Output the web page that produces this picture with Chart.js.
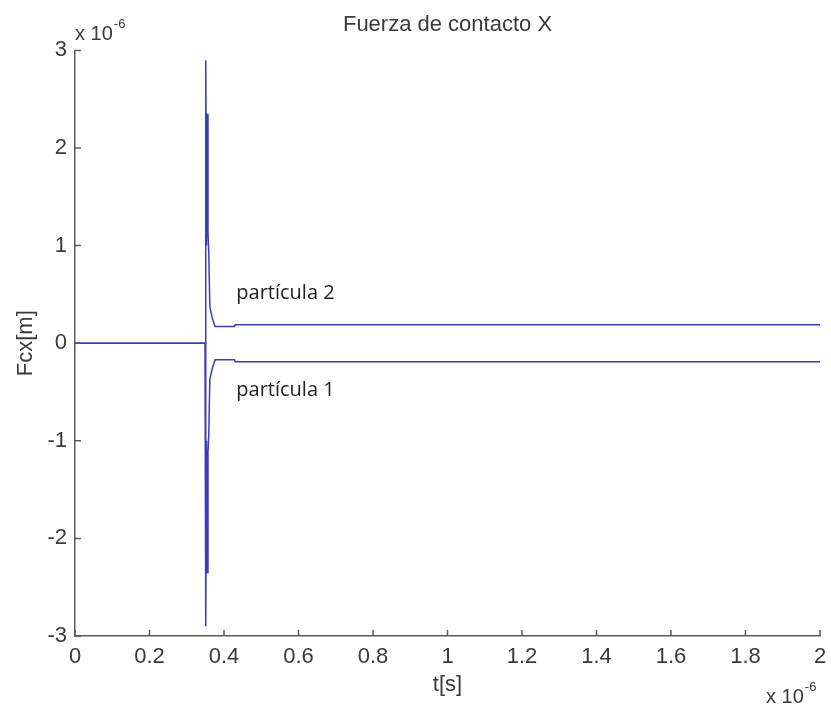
<!DOCTYPE html>
<html>
<head>
<meta charset="utf-8">
<script src="https://cdn.jsdelivr.net/npm/chart.js@4"></script>
<style>
  html, body { margin: 0; padding: 0; background: #fff; }
  #caja { width: 831px; height: 710px; position: relative; }
</style>
</head>
<body>
<div id="caja"><canvas id="grafico"></canvas></div>
<script>
// tiempo en unidades de 1e-6 s, fuerza en unidades de 1e-6
const tiempo     = [0, 0.349, 0.351, 0.353, 0.355, 0.357, 0.359, 0.362, 0.366, 0.370, 0.376, 0.428, 0.430, 2.0];
const particula2 = [0, 0, 2.9, 1.0, 2.35, 1.12, 0.95, 0.37, 0.30, 0.24, 0.17, 0.17, 0.19, 0.19];
const particula1 = [0, 0, -2.9, -1.0, -2.35, -1.12, -0.95, -0.37, -0.30, -0.24, -0.17, -0.17, -0.19, -0.19];
const nombres    = ['partícula 1', 'partícula 2'];
const ticksX     = [0, 0.2, 0.4, 0.6, 0.8, 1, 1.2, 1.4, 1.6, 1.8, 2];
const ticksY     = [-3, -2, -1, 0, 1, 2, 3];

const fuente = 'Liberation Sans, Arial, sans-serif';
const gris = '#3a3a3a';
const azul = '#3c3cb4';

const puntos = (ys) => tiempo.map((t, i) => ({ x: t, y: ys[i] }));

// marcas de eje hacia dentro, exponentes y etiquetas de las curvas
const extras = {
  id: 'extras',
  afterDraw(chart) {
    const { ctx, chartArea: a, scales: { x, y } } = chart;
    ctx.save();
    ctx.strokeStyle = '#5a5a5a';
    ctx.lineWidth = 1.5;
    ctx.beginPath();
    ticksX.forEach(v => {
      const px = x.getPixelForValue(v);
      ctx.moveTo(px, a.bottom);
      ctx.lineTo(px, a.bottom - 6);
    });
    ticksY.forEach(v => {
      const py = y.getPixelForValue(v);
      ctx.moveTo(a.left, py);
      ctx.lineTo(a.left + 6, py);
    });
    ctx.stroke();

    // x 10^-6
    const exponente = (xx, yy) => {
      ctx.fillStyle = gris;
      ctx.textAlign = 'left';
      ctx.textBaseline = 'alphabetic';
      ctx.font = '20px ' + fuente;
      ctx.fillText('x 10', xx, yy);
      const w = ctx.measureText('x 10').width;
      ctx.font = '13px ' + fuente;
      ctx.fillText('-6', xx + w + 1, yy - 12);
    };
    exponente(a.left, 40);
    exponente(a.right - 54, 703);

    ctx.fillStyle = '#1e1e1e';
    ctx.font = '20px "Open Sans", sans-serif';
    ctx.textBaseline = 'middle';
    ctx.fillText(nombres[1], x.getPixelForValue(0.433), y.getPixelForValue(0.51));
    ctx.fillText(nombres[0], x.getPixelForValue(0.433), y.getPixelForValue(-0.48));
    ctx.restore();
  }
};

const config = {
  type: 'line',
  data: {
    datasets: [
      { label: nombres[1], data: puntos(particula2), borderColor: azul, borderWidth: 1.5, pointRadius: 0, tension: 0 },
      { label: nombres[0], data: puntos(particula1), borderColor: azul, borderWidth: 1.5, pointRadius: 0, tension: 0 }
    ]
  },
  options: {
    responsive: true,
    maintainAspectRatio: false,
    animation: false,
    layout: { padding: { left: 0, right: 11, top: 0, bottom: 0 } },
    plugins: {
      legend: { display: false },
      tooltip: { enabled: false },
      title: {
        display: true,
        fullSize: false,
        text: 'Fuerza de contacto X',
        color: gris,
        font: { family: fuente, size: 22, weight: 'normal' },
        padding: { top: 12, bottom: 12 }
      }
    },
    scales: {
      x: {
        type: 'linear',
        min: 0,
        max: 2,
        afterFit: (s) => { s.height = 74; s.paddingLeft = 0; s.paddingRight = 0; },
        afterBuildTicks: (s) => { s.ticks = ticksX.map(v => ({ value: v })); },
        grid: { display: true, drawOnChartArea: false, drawTicks: false },
        border: { display: true, color: '#5a5a5a', width: 1.5 },
        ticks: {
          color: gris,
          padding: 8,
          maxRotation: 0,
          font: { family: fuente, size: 22 },
          callback: (v) => String(Number(v.toFixed(1)))
        },
        title: {
          display: true,
          text: 't[s]',
          color: gris,
          font: { family: fuente, size: 22 },
          padding: { top: 0, bottom: 12 }
        }
      },
      y: {
        type: 'linear',
        min: -3,
        max: 3,
        afterFit: (s) => { s.width = 75; },
        afterBuildTicks: (s) => { s.ticks = ticksY.map(v => ({ value: v })); },
        grid: { display: true, drawOnChartArea: false, drawTicks: false },
        border: { display: true, color: '#5a5a5a', width: 1.5 },
        ticks: {
          color: gris,
          padding: 8,
          font: { family: fuente, size: 22 },
          callback: (v) => String(v)
        },
        title: {
          display: true,
          text: 'Fcx[m]',
          color: gris,
          font: { family: fuente, size: 22 },
          padding: { top: 13, bottom: 0 }
        }
      }
    }
  },
  plugins: [extras]
};

new Chart(document.querySelector('#grafico'), config);
</script>
</body>
</html>
